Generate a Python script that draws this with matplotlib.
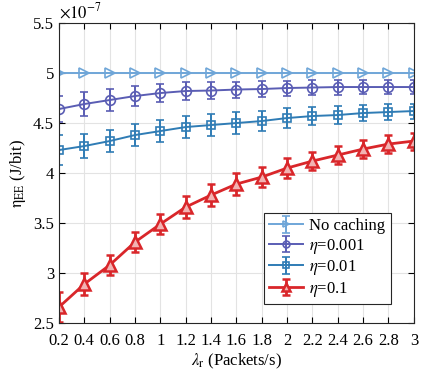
import numpy as np
import matplotlib
matplotlib.use("Agg")
import matplotlib.pyplot as plt

plt.rcParams['font.family'] = ['Liberation Serif', 'DejaVu Serif']
plt.rcParams['mathtext.fontset'] = 'stix'

lam = [0.2, 0.4, 0.6, 0.8, 1.0, 1.2, 1.4, 1.6, 1.8, 2.0, 2.2, 2.4, 2.6, 2.8, 3.0]

# values in units of 1e-7 J/bit
no_cache = [5.0] * 15
no_cache_err = [0.0] * 15
eta001 = [4.64, 4.69, 4.73, 4.77, 4.80, 4.82, 4.825, 4.835, 4.84, 4.85, 4.855, 4.86, 4.86, 4.86, 4.86]
eta001_err = [0.13, 0.12, 0.11, 0.10, 0.09, 0.09, 0.085, 0.08, 0.08, 0.075, 0.075, 0.075, 0.07, 0.07, 0.07]
eta01 = [4.23, 4.27, 4.32, 4.38, 4.42, 4.46, 4.48, 4.50, 4.52, 4.55, 4.57, 4.58, 4.60, 4.61, 4.62]
eta01_err = [0.15, 0.12, 0.11, 0.11, 0.11, 0.11, 0.11, 0.11, 0.10, 0.10, 0.09, 0.09, 0.08, 0.08, 0.075]
eta1 = [2.66, 2.89, 3.08, 3.31, 3.49, 3.66, 3.78, 3.89, 3.96, 4.05, 4.12, 4.18, 4.24, 4.29, 4.32]
eta1_err = [0.15, 0.11, 0.10, 0.10, 0.10, 0.11, 0.11, 0.11, 0.10, 0.10, 0.09, 0.09, 0.09, 0.09, 0.085]

fig = plt.figure(figsize=(4.24, 3.74), dpi=100)
ax = fig.add_axes([0.139, 0.136, 0.837, 0.8025])

ax.errorbar(lam, no_cache, yerr=no_cache_err, color="#6fa6d8", marker=">", markersize=7,
            markerfacecolor="none", markeredgewidth=1.2, lw=1.4, capsize=3, label="No caching")
ax.errorbar(lam, eta001, yerr=eta001_err, color="#5a5db4", marker="o", markersize=7,
            markerfacecolor="none", markeredgewidth=1.2, lw=1.4, capsize=3, elinewidth=1.4, label=r"$\eta$=0.001")
ax.errorbar(lam, eta01, yerr=eta01_err, color="#2f7cb5", marker="s", markersize=5.5,
            markerfacecolor="none", markeredgewidth=1.2, lw=1.4, capsize=3, elinewidth=1.4, label=r"$\eta$=0.01")
ax.errorbar(lam, eta1, yerr=eta1_err, color="#d9262a", marker="^", markersize=8,
            markerfacecolor="#f2b3b3", markeredgewidth=1.8, lw=2.0, capsize=3, elinewidth=2.0,
            capthick=2.0, label=r"$\eta$=0.1")

ax.set_xlim(0.2, 3.0)
ax.set_ylim(2.5, 5.5)
ax.set_xticks(lam)
ax.set_xticklabels(["0.2", "0.4", "0.6", "0.8", "1", "1.2", "1.4", "1.6", "1.8", "2",
                    "2.2", "2.4", "2.6", "2.8", "3"])
ax.set_yticks([2.5, 3, 3.5, 4, 4.5, 5, 5.5])
ax.set_yticklabels(["2.5", "3", "3.5", "4", "4.5", "5", "5.5"])
ax.tick_params(direction="in", top=True, right=True, labelsize=12, length=4)
ax.tick_params(axis="x", pad=7)
ax.grid(True, color="#e3e3e3", lw=0.8)
ax.set_axisbelow(True)
for s in ax.spines.values():
    s.set_linewidth(0.8)
    s.set_color("#262626")

ax.text(0.0, 1.005, r"$\times 10^{-7}$", transform=ax.transAxes, fontsize=12,
        ha="left", va="bottom")
ax.set_xlabel(r"$\lambda_{\rm r}$ (Packets/s)", fontsize=12, labelpad=2)
ax.set_ylabel(r"$\mathrm{\eta}_{\rm EE}$ (J/bit)", fontsize=12)

leg = ax.legend(loc="lower right", bbox_to_anchor=(0.958, 0.037), fontsize=12,
                fancybox=False, edgecolor="#262626", framealpha=1, markerscale=0.7,
                handlelength=2.0, borderpad=0.3, labelspacing=0.15, handletextpad=0.4)
leg.get_frame().set_linewidth(0.8)

fig.savefig("out.png", dpi=100)
